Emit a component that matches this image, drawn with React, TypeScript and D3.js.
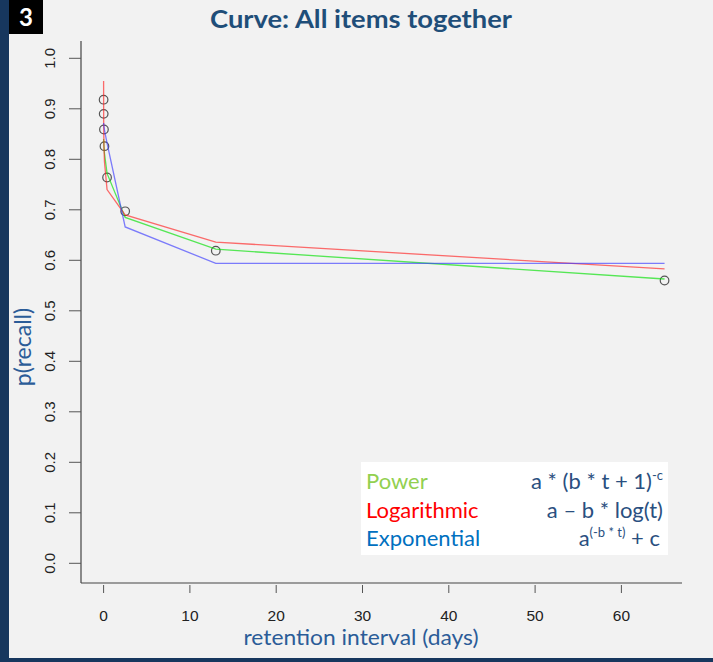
import React from "react";
import * as d3 from "d3";

const days = [0, 0.01, 0.04, 0.1, 0.4, 2.5, 13, 65];
const observed = [0.918, 0.89, 0.859, 0.826, 0.764, 0.697, 0.619, 0.56];
const powerFit = [0.84, 0.835, 0.826, 0.812, 0.772, 0.685, 0.622, 0.563];
const logFit = [0.955, 0.87, 0.826, 0.795, 0.74, 0.69, 0.636, 0.583];
const expFit = [0.872, 0.87, 0.866, 0.858, 0.832, 0.666, 0.594, 0.594];
const xTicks = [0, 10, 20, 30, 40, 50, 60];
const yTicks = [0, 0.1, 0.2, 0.3, 0.4, 0.5, 0.6, 0.7, 0.8, 0.9, 1.0];
const legendNames = ["Power", "Logarithmic", "Exponential"];
const legendColors = ["#92d050", "#ff0000", "#0070c0"];

const W = 713;
const H = 662;

export default function App() {
  const x = d3.scaleLinear().domain([0, 60]).range([103.6, 621.4]);
  const y = d3.scaleLinear().domain([0, 1]).range([563.3, 58.3]);
  const line = d3
    .line<number>()
    .x((_, i) => x(days[i]))
    .y((v) => y(v));

  const series = [
    { vals: powerFit, color: "#00e000" },
    { vals: logFit, color: "#ff2020" },
    { vals: expFit, color: "#3a3aff" },
  ];

  const axisFont = "'Liberation Sans', Arial, sans-serif";
  const textFont = "Lato, 'Open Sans', sans-serif";
  const blue = "#2b5c98";
  const formula = "#2a4f80";

  return (
    <svg
      width={W}
      height={H}
      style={{ position: "absolute", left: 0, top: 0 }}
    >
      <rect x={0} y={0} width={W} height={H} fill="#f2f2f2" />
      {/* borders */}
      <rect x={0} y={0} width={9} height={H} fill="#17375e" />
      <rect x={0} y={658} width={W} height={4} fill="#17375e" />
      {/* badge */}
      <rect x={9} y={0} width={34} height={34} fill="#000" />
      <text
        x={26}
        y={26}
        textAnchor="middle"
        fill="#fff"
        fontFamily={textFont}
        fontWeight={700}
        fontSize={24}
      >
        3
      </text>
      {/* title */}
      <text
        x={361}
        y={28}
        textAnchor="middle"
        fill="#1f4e79"
        fontFamily={textFont}
        fontWeight={700}
        fontSize={25}
        textLength={302}
        lengthAdjust="spacingAndGlyphs"
      >
        Curve: All items together
      </text>

      {/* axes */}
      <line x1={81} x2={81} y1={41} y2={583} stroke="#444" strokeWidth={1.2} />
      <line x1={81} x2={682} y1={583} y2={583} stroke="#444" strokeWidth={1.2} />
      {yTicks.map((t) => (
        <g key={"y" + t}>
          <line x1={69} x2={81} y1={y(t)} y2={y(t)} stroke="#555" strokeWidth={1} />
          <text
            transform={`translate(55,${y(t)}) rotate(-90)`}
            textAnchor="middle"
            fontFamily={axisFont}
            fontSize={15}
            fill="#222"
          >
            {t.toFixed(1)}
          </text>
        </g>
      ))}
      {xTicks.map((t) => (
        <g key={"x" + t}>
          <line x1={x(t)} x2={x(t)} y1={585} y2={593} stroke="#555" strokeWidth={1} />
          <text
            x={x(t)}
            y={621}
            textAnchor="middle"
            fontFamily={axisFont}
            fontSize={15.5}
            fill="#222"
          >
            {t}
          </text>
        </g>
      ))}
      <text
        transform="translate(31,347) rotate(-90)"
        textAnchor="middle"
        fontFamily={textFont}
        fontSize={23}
        fill={blue}
      >
        p(recall)
      </text>
      <text
        x={361}
        y={645}
        textAnchor="middle"
        fontFamily={textFont}
        fontSize={22}
        textLength={235}
        lengthAdjust="spacingAndGlyphs"
        fill={blue}
      >
        retention interval (days)
      </text>

      {/* observed points */}
      {observed.map((v, i) => (
        <circle
          key={"p" + i}
          cx={x(days[i])}
          cy={y(v)}
          r={4.3}
          fill="none"
          stroke="#555"
          strokeWidth={1.2}
        />
      ))}
      {/* fitted curves */}
      {series.map((s, i) => (
        <path
          key={"s" + i}
          d={line(s.vals) || ""}
          fill="none"
          stroke={s.color}
          strokeOpacity={0.65}
          strokeWidth={1.3}
        />
      ))}

      {/* legend */}
      <rect x={361} y={462} width={307} height={93} fill="#ffffff" />
      {legendNames.map((n, i) => (
        <text
          key={n}
          x={366}
          y={489 + i * 28.5}
          fontFamily={textFont}
          fontSize={22}
          fill={legendColors[i]}
        >
          {n}
        </text>
      ))}
      <text x={663} y={489} textAnchor="end" fontFamily={textFont} fontSize={22} fill={formula}>
        a * (b * t + 1)
        <tspan fontSize={13} dy={-9}>-c</tspan>
      </text>
      <text x={663} y={517.5} textAnchor="end" fontFamily={textFont} fontSize={22} fill={formula}>
        a – b * log(t)
      </text>
      <text x={660} y={546} textAnchor="end" fontFamily={textFont} fontSize={22} fill={formula}>
        a
        <tspan fontSize={13} dy={-9}>(-b * t)</tspan>
        <tspan dy={9}> + c</tspan>
      </text>
    </svg>
  );
}
